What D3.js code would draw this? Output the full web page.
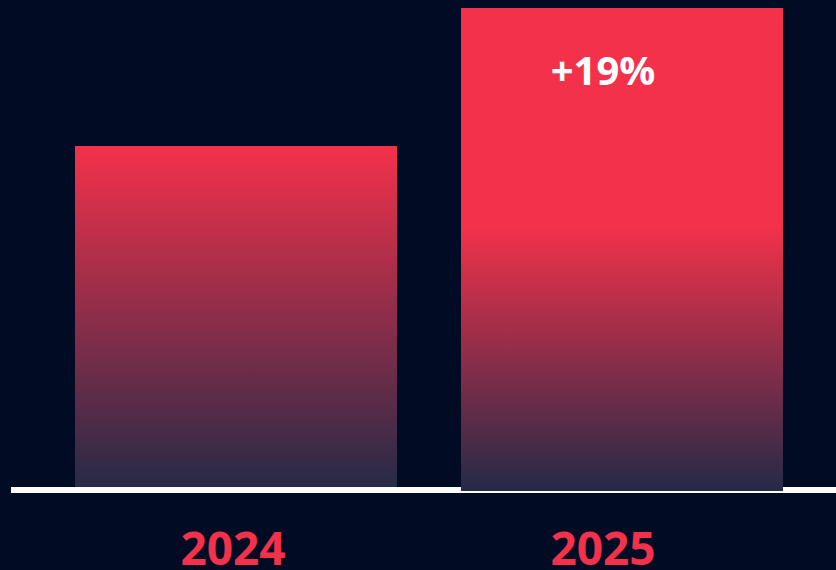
<!DOCTYPE html>
<html>
  <head>
    <meta charset="utf-8" />
    <title>2024 vs 2025</title>
    <script src="https://d3js.org/d3.v7.min.js"></script>
    <style>
      html, body { margin: 0; padding: 0; background: #010c24; overflow: hidden; }
      text { font-family: "Open Sans", sans-serif; font-weight: 700; }
    </style>
  </head>
  <body>
    <script>
      // data
      let years = ["2024", "2025"];
      let values = [100, 119]; // index, 2024 = 100
      let changeLabels = ["", "+19%"];
      let redStop = [0, 0.45]; // where the red part of each bar's gradient ends

      let width = 836;
      let height = 570;
      let red = "#f4314b";
      let dark = "#242a47";

      let svg = d3
        .select("body")
        .append("svg")
        .attr("width", width)
        .attr("height", height);

      svg.append("rect").attr("width", width).attr("height", height).attr("fill", "#010c24");

      let x = d3.scaleBand().domain(years).range([75, 783]).paddingInner(64 / 386).paddingOuter(0);
      let y = d3.scaleLinear().domain([52.5, 119]).range([491, 8]);
      // year labels sit a bit left of the bar centres
      let xLabel = d3.scalePoint().domain(years).range([233, 603]);

      let data = years.map((yr, i) => ({ year: yr, value: values[i], change: changeLabels[i], stop: redStop[i], i: i }));

      // gradients
      let defs = svg.append("defs");
      data.forEach((d) => {
        let g = defs
          .append("linearGradient")
          .attr("id", "grad" + d.i)
          .attr("x1", 0).attr("y1", 0).attr("x2", 0).attr("y2", 1);
        g.append("stop").attr("offset", 0).attr("stop-color", red);
        g.append("stop").attr("offset", d.stop).attr("stop-color", red);
        g.append("stop").attr("offset", 1).attr("stop-color", dark);
      });

      function drawBar(d) {
        svg
          .append("rect")
          .attr("x", x(d.year))
          .attr("y", y(d.value))
          .attr("width", x.bandwidth())
          .attr("height", y(y.domain()[0]) - y(d.value))
          .attr("fill", "url(#grad" + d.i + ")");
      }

      // first bar sits behind the baseline, second one over it
      drawBar(data[0]);
      svg
        .append("line")
        .attr("x1", 11)
        .attr("x2", width)
        .attr("y1", 490)
        .attr("y2", 490)
        .attr("stroke", "#ffffff")
        .attr("stroke-width", 6);
      drawBar(data[1]);

      // change label
      svg
        .selectAll(".change")
        .data(data.filter((d) => d.change))
        .join("text")
        .attr("class", "change")
        .attr("x", (d) => xLabel(d.year))
        .attr("y", (d) => y(d.value) + 77)
        .attr("text-anchor", "middle")
        .attr("fill", "#ffffff")
        .attr("font-size", 40)
        .text((d) => d.change);

      // year labels
      svg
        .selectAll(".year")
        .data(data)
        .join("text")
        .attr("class", "year")
        .attr("x", (d) => xLabel(d.year))
        .attr("y", 565)
        .attr("text-anchor", "middle")
        .attr("fill", red)
        .attr("font-size", 46)
        .text((d) => d.year);
    </script>
  </body>
</html>
